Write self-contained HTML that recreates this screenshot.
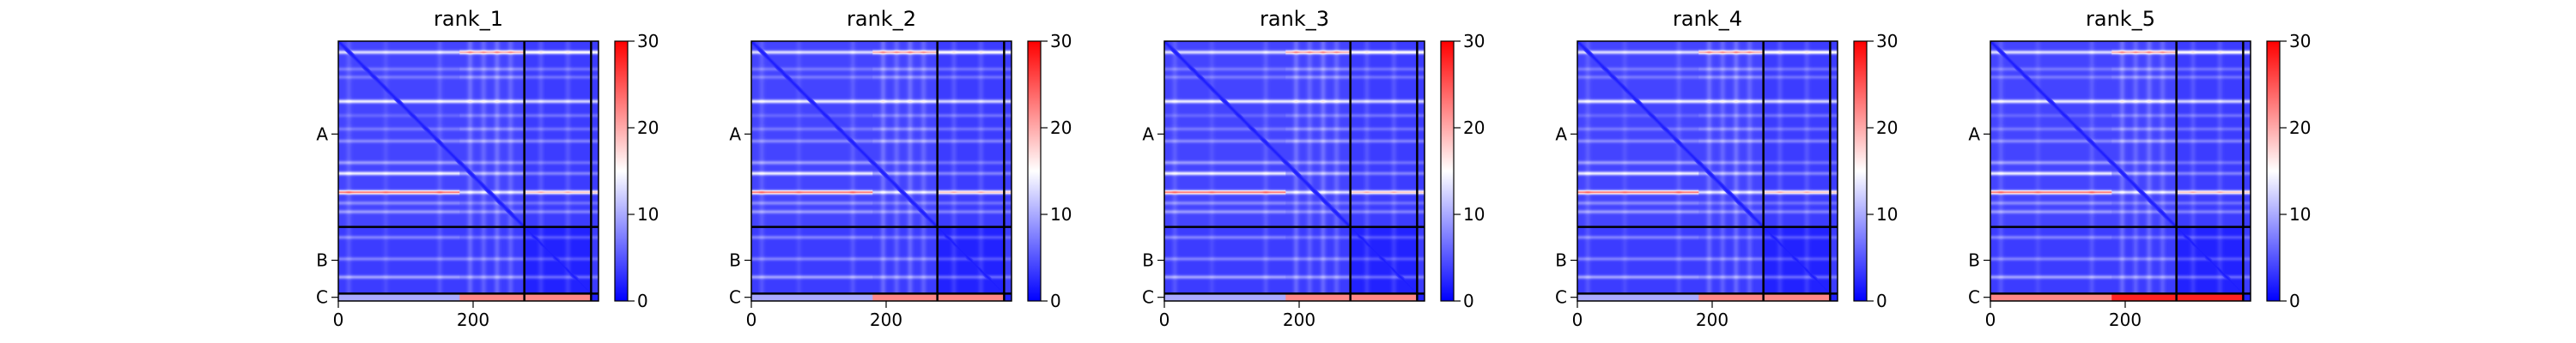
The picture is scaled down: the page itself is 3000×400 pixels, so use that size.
<!DOCTYPE html>
<html><head><meta charset="utf-8">
<style>
html,body{margin:0;padding:0;background:#fff;}
#root{position:relative;width:3000px;height:400px;overflow:hidden;font-family:"DejaVu Sans","Liberation Sans",sans-serif;}
canvas{position:absolute;}
svg{position:absolute;left:0;top:0;font-family:"DejaVu Sans","Liberation Sans",sans-serif;}
</style></head>
<body>
<div id="root">
<svg id="svg" width="3000" height="400"></svg>
</div>
<script>
// ---- data ----
const panelTitles = ["rank_1","rank_2","rank_3","rank_4","rank_5"];
const nRes = 386;
const chainNames = ["A","B","C"];
const chainStarts = [0,276,375];
const chainEnds = [276,375,386];
const xTicks = [0,200];
const cbarTicks = [0,10,20,30];
const vmax = 30;
// row stripes: residue index, amplitude in left cols (<180), mid cols (180-276), right cols (>276)
const stripeRows  = [16, 41, 53, 89, 110, 130, 148, 180, 196, 224, 240, 253, 291, 323, 350];
const stripeLeft  = [9,  3,  3,  10, 2,   3,   4,   5,   10,  19,  4,   5,   4,   4,   6];
const stripeMid   = [16, 4,  4,  10, 3,   4,   5,   4,   6,   9,   3,   4,   3,   4,   5];
const stripeRight = [12, 3,  3,  9,  3,   3,   4,   3,   4,   15,  3,   4,   3,   3,   4];
// column streaks (residue index) and amplitudes
const streakCols = [15, 70, 150, 195, 215, 235, 255, 300, 340];
const streakAmps = [1.5, 1, 1.5, 2.5, 2, 2.5, 2, 1.5, 1.5];
// chain C row error level per panel (left part, right part)
const cRowLeft = [10,10,10,10,22];
const cRowRight = [22,22,22,22,28];

// ---- geometry ----
const panelLeft = [394,875,1356,1837,2318];
const top0 = 48, size = 303;
const svg = document.getElementById('svg');
const root = document.getElementById('root');
const NS = "http://www.w3.org/2000/svg";
function el(tag, attrs, parent){const e=document.createElementNS(NS,tag);for(const k in attrs)e.setAttribute(k,attrs[k]);(parent||svg).appendChild(e);return e;}
function bwr(v){v=Math.max(0,Math.min(vmax,v));const h=vmax/2;if(v<h){const t=v/h;return [Math.round(255*t),Math.round(255*t),255];}const t=(v-h)/h;return [255,Math.round(255*(1-t)),Math.round(255*(1-t))];}
function chainOf(i){for(let c=0;c<chainStarts.length;c++)if(i<chainEnds[c])return c;return 2;}
function value(p,i,j){
  const ci=chainOf(i), cj=chainOf(j);
  let v = (ci===cj)? (ci===0?4:2) : 3.5;
  if(ci===2){
    v = j<180? cRowLeft[p] : cRowRight[p];
    if(cj===2) v=2;
    return v;
  }
  for(let k=0;k<stripeRows.length;k++){
    const d=(i-stripeRows[k])/2.0;
    if(Math.abs(d)<4){const a=j<180?stripeLeft[k]:(j<276?stripeMid[k]:stripeRight[k]);v+=a*Math.exp(-d*d/2);}
  }
  for(let k=0;k<streakCols.length;k++){const d=(j-streakCols[k])/3;if(Math.abs(d)<4)v+=streakAmps[k]*Math.exp(-d*d/2);}
  const dd=Math.abs(i-j); if(dd<5) v=Math.min(v,1.5+dd*0.5);
  return v;
}
panelTitles.forEach((title,p)=>{
  const L=panelLeft[p];
  const sc = size/nRes;
  const cv=document.createElement('canvas');
  cv.width=nRes;cv.height=nRes;
  cv.style.left=L+'px';cv.style.top=top0+'px';cv.style.width=size+'px';cv.style.height=size+'px';
  
  
  root.insertBefore(cv,svg);
  const ctx=cv.getContext('2d');const img=ctx.createImageData(nRes,nRes);
  for(let i=0;i<nRes;i++)for(let j=0;j<nRes;j++){const c=bwr(value(p,i,j));const o=(i*nRes+j)*4;img.data[o]=c[0];img.data[o+1]=c[1];img.data[o+2]=c[2];img.data[o+3]=255;}
  ctx.putImageData(img,0,0);
  const g=el('g',{});
  
  
  [chainEnds[0],chainEnds[1]].forEach(b=>{
    const ln1=el('line',{x1:L+b*sc,x2:L+b*sc,y1:top0,y2:top0+size,stroke:'#000','stroke-width':2.5},g);
    
    
    const ln2=el('line',{x1:L,x2:L+size,y1:top0+b*sc,y2:top0+b*sc,stroke:'#000','stroke-width':2.5},g);
    
    
  });
  const fr=el('rect',{x:L,y:top0,width:size,height:size,fill:'none',stroke:'#000','stroke-width':1.5},g);
  
  
  const t=el('text',{x:L+size/2,y:30,'text-anchor':'middle','font-size':24,fill:'#000'},g);t.textContent=title;
  
  
  chainNames.forEach((n,c)=>{
    const y=top0+(chainStarts[c]+chainEnds[c])/2*sc;
    el('line',{x1:L-8,x2:L,y1:y,y2:y,stroke:'#000','stroke-width':1.2},g);
    const tx=el('text',{x:L-12,y:y+7,'text-anchor':'end','font-size':20,fill:'#000'},g);tx.textContent=n;
    
    
  });
  xTicks.forEach(v=>{
    const x=L+v*sc;
    el('line',{x1:x,x2:x,y1:top0+size,y2:top0+size+8,stroke:'#000','stroke-width':1.2},g);
    const tx=el('text',{x:x,y:top0+size+29,'text-anchor':'middle','font-size':20,fill:'#000'},g);tx.textContent=v;
    
    
  });
  const cx=L+322, cw=15;
  const gid='cg'+p;
  const defs=el('defs',{},g);const lg=el('linearGradient',{id:gid,x1:0,y1:1,x2:0,y2:0},defs);
  el('stop',{offset:'0','stop-color':'rgb(0,0,255)'},lg);el('stop',{offset:'0.5','stop-color':'rgb(255,255,255)'},lg);el('stop',{offset:'1','stop-color':'rgb(255,0,0)'},lg);
  const cb=el('rect',{x:cx,y:top0,width:cw,height:size,fill:'url(#'+gid+')',stroke:'#000','stroke-width':1.2},g);
  
  
  cbarTicks.forEach(v=>{
    const y=top0+size-v/vmax*size;
    el('line',{x1:cx+cw,x2:cx+cw+8,y1:y,y2:y,stroke:'#000','stroke-width':1.2},g);
    const tx=el('text',{x:cx+cw+11,y:y+7,'font-size':20,fill:'#000'},g);tx.textContent=v;
    
    
  });
});
</script>
</body></html>
